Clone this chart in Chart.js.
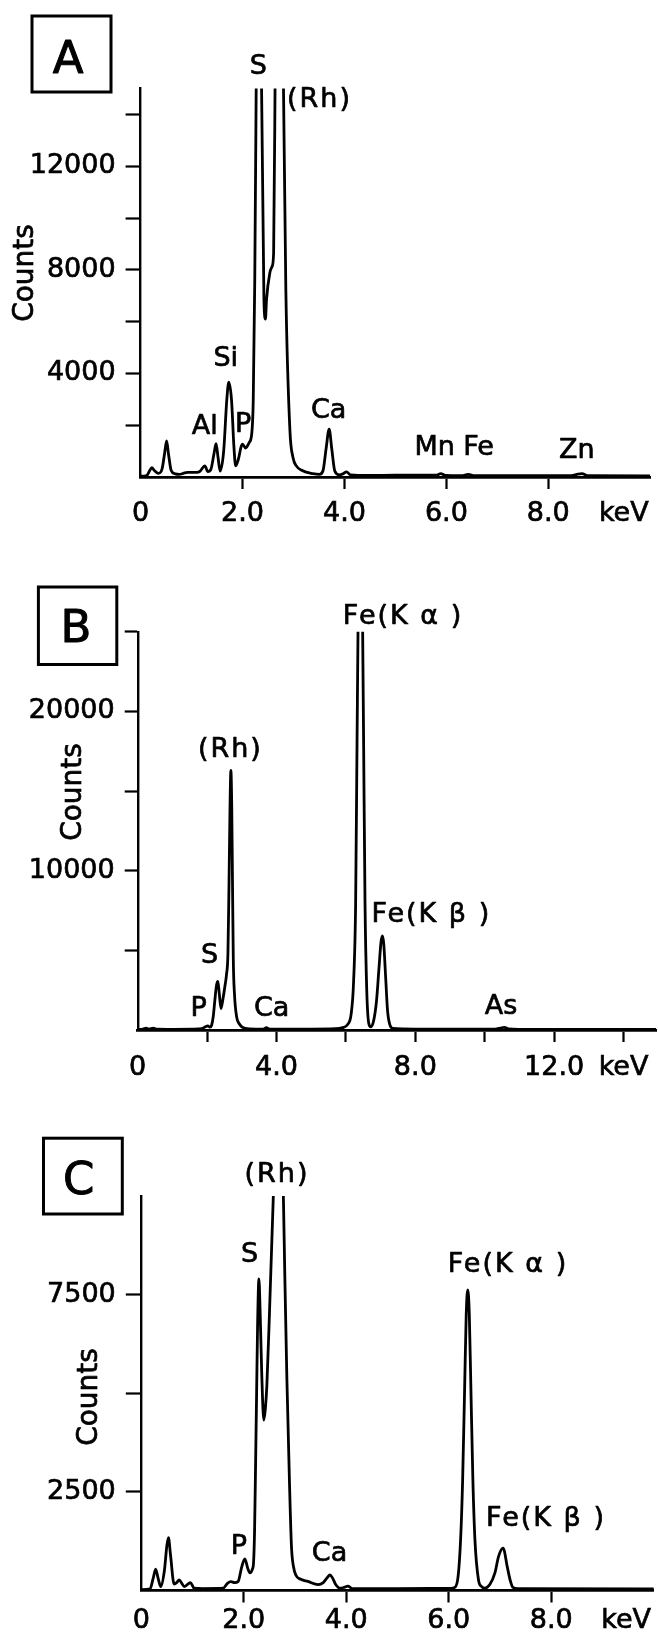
<!DOCTYPE html>
<html><head><meta charset="utf-8">
<script src="https://cdn.jsdelivr.net/npm/chart.js@4.4.0/dist/chart.umd.min.js"></script>
<style>
html,body{margin:0;padding:0;background:#fff;}
#wrap{position:relative;width:658px;height:1636px;overflow:hidden;background:#fff;}
canvas{position:absolute;left:0;}
</style></head>
<body><div id="wrap">
<canvas id="cA" width="658" height="540" style="top:0px"></canvas>
<canvas id="cB" width="658" height="540" style="top:540px"></canvas>
<canvas id="cC" width="658" height="556" style="top:1080px"></canvas>
</div>
<script>
// ---------- DATA ----------
// Panel A
const energyA = [0.00,0.12,0.18,0.22,0.27,0.35,0.42,0.47,0.51,0.55,0.60,0.68,0.76,0.85,0.92,1.10,1.17,1.26,1.32,1.38,1.44,1.48,1.52,1.56,1.63,1.69,1.73,1.785,1.83,1.865,1.92,1.97,2.00,2.06,2.13,2.18,2.21,2.24,2.27,2.32,2.37,2.42,2.45,2.47,2.535,2.58,2.61,2.64,2.72,2.80,2.85,2.93,2.99,3.06,3.15,3.38,3.51,3.58,3.64,3.70,3.75,3.81,3.90,3.97,4.04,4.12,4.5,5.0,5.5,5.8,5.89,5.98,6.3,6.43,6.55,8.45,8.58,8.66,8.78,10.0];
const countsA = [30,60,250,360,250,140,300,900,1390,850,250,120,100,150,175,180,230,430,210,300,900,1290,750,230,1000,2950,3660,2950,1200,430,700,1150,1270,1120,1330,1660,2950,7600,15600,30000,15600,6830,6100,6830,7880,8130,8660,15600,40000,15600,7200,1790,750,420,270,130,100,250,1100,1850,1100,230,80,120,200,80,60,70,70,70,130,60,50,100,50,50,110,130,50,40];
const xTicksA = [0,2,4,6,8,9.48];
const xTickLabelsA = ['0','2.0','4.0','6.0','8.0','keV'];
const yTicksA = [2000,4000,6000,8000,10000,12000,14000];
const yTickLabelsA = ['','4000','','8000','','12000',''];
const peakNamesA = ['S','(Rh)','Si','Al','P','Ca','Mn','Fe','Zn'];
const peakAtA = [[2.31,15830],[3.51,14560],[1.67,4570],[1.26,1940],[2.01,1990],[3.69,2550],[5.77,1120],[6.63,1120],[8.56,1000]];

// Panel B
const energyB = [0.00,0.15,0.25,0.33,0.45,0.55,1.0,1.6,1.85,1.95,2.02,2.08,2.13,2.18,2.22,2.27,2.31,2.35,2.40,2.46,2.51,2.56,2.60,2.63,2.66,2.685,2.71,2.735,2.755,2.79,2.85,2.94,3.10,3.40,3.62,3.71,3.80,5.0,5.7,5.9,6.05,6.15,6.22,6.28,6.32,6.35,6.41,6.48,6.51,6.55,6.60,6.66,6.72,6.80,6.88,6.95,7.01,7.05,7.09,7.14,7.20,7.27,7.35,8.0,10.3,10.45,10.56,10.68,11.0,14.94];
const countsB = [30,60,110,50,120,50,40,50,80,200,260,180,300,900,1800,2800,3050,2300,1350,2000,2700,3500,4800,9000,14000,16300,14000,8500,4400,2200,840,350,100,60,60,150,60,60,80,150,350,1000,3000,8000,18000,25500,40000,25500,18000,8000,2500,400,200,600,1800,3800,5500,5900,5400,3500,1200,300,100,60,60,120,170,70,40,30];
const xTicksB = [0,2,4,6,8,10,12,14];
const xTickLabelsB = ['0','','4.0','','8.0','','12.0','keV'];
const yTicksB = [5000,10000,15000,20000,25000];
const yTickLabelsB = ['','10000','','20000',''];
const peakNamesB = ['Fe(K α )','(Rh)','S','P','Ca','Fe(K β )','As'];
const peakAtB = [[7.646,25926],[2.67,17577],[2.07,4677],[1.755,1350],[3.86,1350],[8.46,7219],[10.47,1475]];

// Panel C
const energyC = [0.00,0.17,0.23,0.28,0.33,0.38,0.45,0.50,0.53,0.57,0.64,0.69,0.74,0.79,0.84,0.96,1.03,1.2,1.6,1.68,1.75,1.82,1.89,1.96,2.02,2.08,2.12,2.17,2.19,2.21,2.23,2.25,2.27,2.295,2.32,2.35,2.39,2.42,2.45,2.50,2.58,2.67,2.77,2.80,2.84,2.89,2.93,2.97,3.02,3.10,3.25,3.45,3.55,3.63,3.68,3.73,3.79,3.88,3.96,4.03,4.12,5.0,6.0,6.10,6.17,6.23,6.27,6.31,6.34,6.37,6.40,6.43,6.47,6.51,6.58,6.64,6.70,6.80,6.90,6.97,7.06,7.14,7.20,7.25,7.35,10.0];
const countsC = [20,40,300,540,300,100,500,1150,1340,900,165,200,270,180,100,200,60,50,60,180,225,200,230,600,800,550,450,550,700,1500,3200,5000,6800,7900,7000,5500,4320,4600,5200,7000,10150,14000,10150,8000,5400,2800,1115,600,380,290,230,150,200,330,395,320,160,60,80,110,50,50,55,70,250,1285,2800,5200,7000,7620,7000,5200,2800,1285,267,100,60,150,445,860,1075,605,250,80,50,40];
const xTicksC = [0,2,4,6,8,9.46];
const xTickLabelsC = ['0','2.0','4.0','6.0','8.0','keV'];
const yTicksC = [2500,5000,7500];
const yTickLabelsC = ['2500','','7500'];
const peakNamesC = ['(Rh)','S','Fe(K α )','Fe(K β )','P','Ca'];
const peakAtC = [[2.648,10532],[2.115,8501],[7.155,8257],[7.897,1804],[1.902,1107],[3.672,929]];

// ---------- LAYOUT / STYLE ----------
const FONT = "'DejaVu Sans', 'Liberation Sans', sans-serif";
const INK = '#000';
const TEXT_STROKE = 0.7;

function makePanel(id, p) {
  const el = document.getElementById(id);
  const H = el.height, W = el.width;
  const pts = p.energy.map((e, i) => ({x: e, y: p.counts[i]}));
  function txt(ctx, t, x, y) {
    ctx.strokeText(t, x, y);
    ctx.fillText(t, x, y);
  }
  const decor = {
    id: 'decor_' + id,
    afterDraw(chart) {
      const ctx = chart.ctx, xs = chart.scales.x, ys = chart.scales.y;
      ctx.save();
      ctx.fillStyle = INK; ctx.strokeStyle = INK;
      ctx.textAlign = 'center'; ctx.textBaseline = 'middle';
      // panel letter box
      ctx.lineWidth = 3;
      ctx.strokeRect(p.box[0], p.box[1], p.box[2], p.box[3]);
      ctx.lineWidth = 1;
      ctx.lineJoin = 'round';
      ctx.font = '45px ' + FONT;
      txt(ctx, p.letter, p.letterAt[0], p.letterAt[1]);
      ctx.lineWidth = TEXT_STROKE;
      // axis title
      ctx.save();
      ctx.translate(p.countsAt[0], p.countsAt[1]);
      ctx.rotate(-Math.PI / 2);
      ctx.font = '28px ' + FONT;
      txt(ctx, 'Counts', 0, 0);
      ctx.restore();
      // peak labels
      ctx.font = '27px ' + FONT;
      p.names.forEach((t, i) => {
        const [kx, cy] = p.at[i];
        ctx.letterSpacing = t.indexOf('(') >= 0 ? '2px' : '0px';
        txt(ctx, t, xs.getPixelForValue(kx), ys.getPixelForValue(cy));
      });
      ctx.letterSpacing = '0px';
      ctx.restore();
    }
  };
  return new Chart(el, {
    type: 'line',
    data: {datasets: [{data: pts, borderColor: INK, borderWidth: 2.8, pointRadius: 0,
      fill: false, cubicInterpolationMode: 'monotone'}]},
    options: {
      responsive: false, animation: false, devicePixelRatio: 1,
      layout: {padding: {left: 0, top: p.area.top, right: W - p.area.right, bottom: 0}},
      plugins: {legend: {display: false}, tooltip: {enabled: false}},
      scales: {
        x: {
          type: 'linear', min: 0, max: p.xMax,
          afterFit: s => { s.height = H - p.area.bottom; },
          afterBuildTicks: s => { s.ticks = p.xTicks.map(v => ({value: v})); },
          ticks: {autoSkip: false, maxRotation: 0, minRotation: 0, padding: p.xPad, color: INK,
            textStrokeColor: INK, textStrokeWidth: TEXT_STROKE,
            font: {family: FONT, size: 27}, callback: (v, i) => p.xLabels[i]},
          grid: {drawOnChartArea: false, tickLength: 12, tickWidth: 2.2,
            tickColor: c => (c.tick && p.xHidden.includes(c.tick.value)) ? 'rgba(0,0,0,0)' : INK},
          border: {display: true, color: INK, width: 2.8}
        },
        y: {
          type: 'linear', min: 0, max: p.yMax,
          afterFit: s => { s.width = p.area.left; },
          afterBuildTicks: s => { s.ticks = p.yTicks.map(v => ({value: v})); },
          ticks: {padding: 10, color: INK, textStrokeColor: INK, textStrokeWidth: TEXT_STROKE,
            font: {family: FONT, size: 27}, callback: (v, i) => p.yLabels[i]},
          grid: {drawOnChartArea: false, tickLength: p.yTickLen, tickWidth: 2.2, tickColor: INK},
          border: {display: true, color: INK, width: 2.4}
        }
      }
    },
    plugins: [decor]
  });
}

makePanel('cA', {
  energy: energyA, counts: countsA, xMax: 10, yMax: 15000,
  area: {left: 140.6, right: 651, top: 88.5, bottom: 477},
  xTicks: xTicksA, xLabels: xTickLabelsA, xHidden: [0, 9.48], xPad: 9,
  yTicks: yTicksA, yLabels: yTickLabelsA, yTickLen: 15,
  names: peakNamesA, at: peakAtA,
  box: [32, 16, 79, 76], letter: 'A', letterAt: [68.2, 61], countsAt: [26.2, 273]
});
makePanel('cB', {
  energy: energyB, counts: countsB, xMax: 14.94, yMax: 25000,
  area: {left: 137.7, right: 657, top: 91.7, bottom: 490},
  xTicks: xTicksB, xLabels: xTickLabelsB, xHidden: [0], xPad: 9.5,
  yTicks: yTicksB, yLabels: yTickLabelsB, yTickLen: 13,
  names: peakNamesB, at: peakAtB,
  box: [38.4, 47, 78.4, 77.5], letter: 'B', letterAt: [76, 90.6], countsAt: [73.5, 252]
});
makePanel('cC', {
  energy: energyC, counts: countsC, xMax: 10, yMax: 10000,
  area: {left: 141.3, right: 653.8, top: 116, bottom: 510.5},
  xTicks: xTicksC, xLabels: xTickLabelsC, xHidden: [0, 9.46], xPad: 2,
  yTicks: yTicksC, yLabels: yTickLabelsC, yTickLen: 15.5,
  names: peakNamesC, at: peakAtC,
  box: [43.5, 58.2, 78.8, 75.8], letter: 'C', letterAt: [78.7, 102], countsAt: [89.6, 317]
});
</script>
</body></html>
